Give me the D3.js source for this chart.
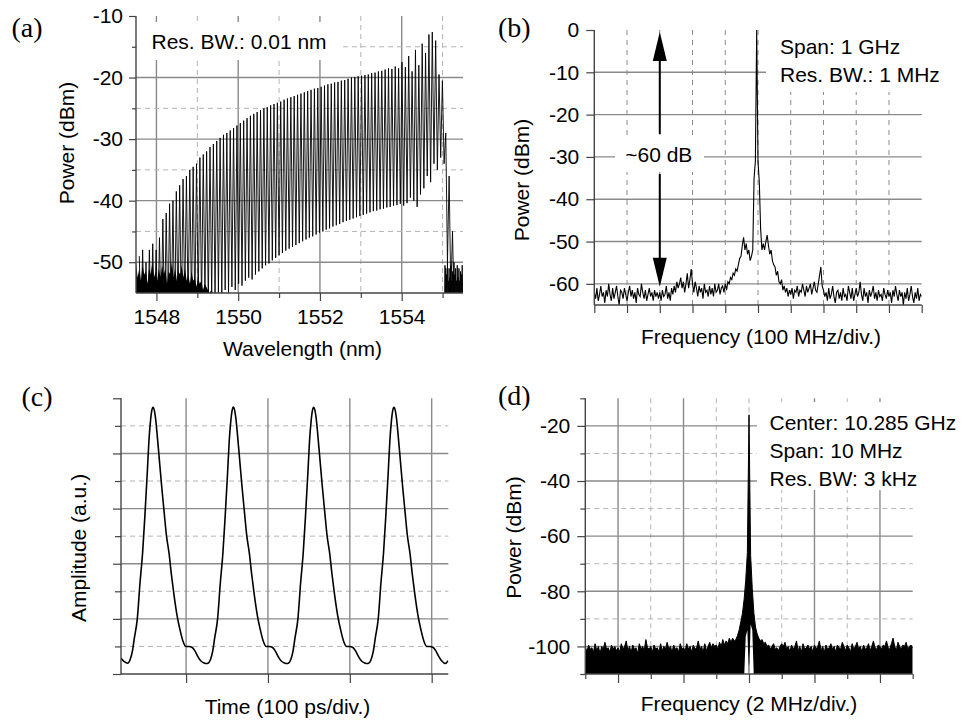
<!DOCTYPE html>
<html lang="en">
<head>
<meta charset="utf-8">
<script src="https://cdn.jsdelivr.net/npm/d3@7/dist/d3.min.js"></script>
<style>
  body { margin: 0; background: #fff; }
  svg text { font-family: "Liberation Sans", Arial, sans-serif; font-size: 21px; fill: #000; }
  svg text.plabel { font-family: "Liberation Serif", "Times New Roman", serif; font-size: 28px; }
  .grid { stroke: #8a8a8a; stroke-width: 1.4; }
  .dash { stroke: #b4b4b4; stroke-width: 1; stroke-dasharray: 5,4; }
  .dashb { stroke: #8a8a8a; stroke-width: 1; stroke-dasharray: 5,5; }
  .tick line { stroke: #444; stroke-width: 1.2; }
  .axisline { stroke: #444; stroke-width: 1.4; }
</style>
</head>
<body>
<svg width="963" height="721"></svg>
<script>
// ---------------- (a) optical spectrum ----------------
var aXMajor = [1548, 1550, 1552, 1554];
var aXMinor = [1549, 1551, 1553, 1555];
var aYMajor = [-10, -20, -30, -40, -50];
var aYMinor = [-15, -25, -35, -45];
var combStart = 1547.58;   // first visible mode (nm)
var combSpacing = 0.0824;  // mode spacing, 10.285 GHz at 1550 nm
var combPeak = [
  -49,-48,-50,-48,-47,-48,-46,-43,-42,-40.5,
  -40,-38.5,-37.5,-36.5,-36,-35,-34.5,-34,-33,-32.5,
  -32,-31.3,-30.8,-30.3,-29.8,-29.3,-29,-28.6,-28.2,-27.8,
  -27.4,-27,-26.6,-26.2,-25.9,-25.6,-25.3,-25,-24.8,-24.5,
  -24.3,-24.1,-23.9,-23.6,-23.4,-23.2,-23,-22.8,-22.6,-22.4,
  -22.2,-22,-21.8,-21.7,-21.5,-21.3,-21.1,-21,-20.8,-20.7,
  -20.5,-20.4,-20.2,-20,-19.9,-19.8,-19.7,-19.6,-19.5,-19.3,
  -19.2,-19,-18.9,-18.7,-18.5,-18.6,-18.2,-18.5,-17.5,-18.3,
  -16.5,-19,-15.5,-18,-14.5,-16,-13,-12.6,-14,-19.5,
  -20.5,-29,-36,-45];
var combValley = [
  -60,-60,-60,-60,-60,-60,-60,-60,-60,-60,
  -60,-58,-59,-57,-58,-57,-58,-56.5,-57,-56,
  -57,-55.5,-56,-55,-55.5,-54.5,-55,-54,-54.5,-53.5,
  -53.8,-53,-52.5,-52.8,-52,-51.5,-51,-50.5,-50.2,-49.7,
  -49.3,-48.9,-48.5,-48.1,-47.8,-47.5,-47.2,-46.9,-46.6,-46.3,
  -46,-45.8,-45.5,-45.2,-45,-44.7,-44.5,-44.2,-44,-43.8,
  -43.5,-43.3,-43.1,-42.9,-42.7,-42.5,-42.3,-42.1,-41.9,-41.7,
  -41.6,-41.4,-41.3,-41.1,-41,-40.8,-40.7,-40.5,-40.8,-40.4,
  -39.5,-40,-41,-39,-38,-36,-37,-34,-35,-33,
  -34,-50,-55,-58];
// noise floor under the short-wavelength side, 0.04 nm steps from 1547.5
var aFloorStart = 1547.5;
var aFloor = [-50,-52.5,-51,-53,-50.5,-52,-51.5,-53.5,-51,-52,-50,-52.5,-51.5,-53,-51,-52.5,
              -50.5,-52,-51,-53.5,-51.5,-52,-50,-52.5,-51,-53,-51.5,-52,-50.5,-52.5,-51,-53,
              -52,-53.5,-51.5,-53,-52.5,-54,-52.5,-53.5,-53,-54.5,-53.5,-54,-54.5,-55,-54.5,-55,-55];
// noise past the long-wavelength edge, 0.01 nm steps from 1555.05
var aTailStart = 1555.05;
var aTail = [-56,-50.5,-57,-51,-55,-52,-56.5,-50,-57,-53,-55.5,-51,-56,-52.5,-57,-50.5,
             -55,-53,-56,-51.5,-57,-52,-55,-50,-56.5,-52,-57,-51,-55.5,-53,-56,-50.5,
             -57,-52.5,-55,-51,-56,-53,-57.5,-51.5,-55,-52,-56.5,-50.5,-57,-52];

// ---------------- (b) RF spectrum, 1 GHz span ----------------
var bYTicks = [0, -10, -20, -30, -40, -50, -60];
var bDivs = [0,1,2,3,4,5,6,7,8,9,10];
var bStep = 0.04; // div per sample
var bPower = [
  -62,-63.5,-61,-64,-62.5,-60.5,-63,-62,-64.5,-61.5,-63,-60,-62.5,-64,-61,-63.5,-62,-60.5,-63,-65,-61.5,-62,-63.5,-61,-62.5,
  -64,-62,-60.5,-63,-61.5,-63.5,-62,-64.5,-61,-62.5,-63,-60,-62,-63.5,-61.5,-64,-62.5,-61,-63,-62,-64,-61.5,-63,-62,-63.5,
  -62,-64,-61.5,-63,-62.5,-60.5,-63.5,-62,-64,-61,-62.5,-60.5,-62,-59.5,-61,-60,-58.5,-61,-59.5,-62,-60,-57.5,-61,-59,-56.5,
  -60,-62,-59.5,-61,-63,-60.5,-62,-61,-63.5,-60,-62,-61.5,-63,-60.5,-62.5,-61,-63,-60,-62,-61.5,-60,-62.5,-61,-60.5,-62,
  -60,-61.5,-59.5,-60,-58.5,-59,-57.5,-58,-56.5,-57,-55.5,-54,-53.5,-51,-49,-52,-50.5,-53,-52,-54.5,-53.5,-52,-35,-31,0,
  -31,-36,-47,-52,-50.5,-52,-50,-48.5,-51,-53,-52,-54.5,-55.5,-56,-58,-57,-59.5,-60,-59,-61.5,-60.5,-62,-61,-63,-61.5,
  -62.5,-61,-63.5,-61.5,-62,-60.5,-63,-61.5,-62,-60,-61.5,-63,-60.5,-62,-61,-60,-62.5,-61,-59.5,-61.5,-62,-60,-58,-56,-60.5,
  -61.5,-63,-62,-64,-61,-63.5,-62.5,-60.5,-63,-64.5,-62,-61.5,-63.5,-62,-64,-61,-63,-62.5,-64,-60.5,-62,-63.5,-61,-64,-62.5,
  -61,-63,-62,-59.5,-62.5,-64,-61,-63,-62,-64.5,-61.5,-63,-62,-60.5,-63.5,-62,-64,-61.5,-63,-62.5,-64,-61,-62.5,-63.5,-61.5,
  -63,-62,-64.5,-61.5,-63,-60.5,-62.5,-64,-61.5,-63,-62,-65,-62,-63.5,-61,-64,-62.5,-60.5,-63,-64.5,-62,-63.5,-61,-64,-62.5,-63];
var bArrowDiv = 2, bArrowTop = 0, bArrowBottom = -60;

// ---------------- (c) pulse train ----------------
var cXTicks = [100, 200, 300, 400];
var cTime = [20.5, 24.5,
  28.6,31.6,34.6,36.8,40.4,43.7,46.9,49.8,52.6,54.6,56.6,58.1,59.6,61.1,62.6,66.1,70.2,73.1,76.1,79.1,82.1,85.1,89.1,92.6,96.1,99.9,103.6,107.1,110.6,114.1,118.1,122.1,125.1,
  126.7,129.7,132.7,134.9,138.5,141.8,145.0,147.9,150.7,152.7,154.7,156.2,157.7,159.2,160.7,164.2,168.3,171.2,174.2,177.2,180.2,183.2,187.2,190.7,194.2,198.0,201.7,205.2,208.7,212.2,216.2,220.2,223.2,
  224.8,227.8,230.8,233.0,236.6,239.9,243.1,246.0,248.8,250.8,252.8,254.3,255.8,257.3,258.8,262.3,266.4,269.3,272.3,275.3,278.3,281.3,285.3,288.8,292.3,296.1,299.8,303.3,306.8,310.3,314.3,318.3,321.3,
  322.9,325.9,328.9,331.1,334.7,338.0,341.2,344.1,346.9,348.9,350.9,352.4,353.9,355.4,356.9,360.4,364.5,367.4,370.4,373.4,376.4,379.4,383.4,386.9,390.4,394.2,397.9,401.4,404.9,408.4,412.4,416.4,420.3];
var cAmp = [0.57, 0.45,
  0.39,0.52,0.86,1.3,2.0,3.3,4.4,5.8,7.3,8.45,9.2,9.55,9.67,9.58,9.3,8.2,6.8,5.9,5.0,4.4,3.6,2.9,2.1,1.6,1.2,1.0,1.0,0.97,0.85,0.65,0.47,0.4,0.38,
  0.39,0.52,0.86,1.3,2.0,3.3,4.4,5.8,7.3,8.45,9.2,9.55,9.68,9.58,9.3,8.2,6.8,5.9,5.0,4.4,3.6,2.9,2.1,1.6,1.2,1.0,1.0,0.97,0.85,0.65,0.47,0.4,0.38,
  0.39,0.52,0.86,1.3,2.0,3.3,4.4,5.8,7.3,8.45,9.2,9.55,9.67,9.58,9.3,8.2,6.8,5.9,5.0,4.4,3.6,2.9,2.1,1.6,1.2,1.0,1.0,0.97,0.85,0.65,0.47,0.4,0.38,
  0.39,0.52,0.86,1.3,2.0,3.3,4.4,5.8,7.3,8.45,9.2,9.55,9.67,9.58,9.3,8.2,6.8,5.9,5.0,4.4,3.6,2.9,2.1,1.6,1.2,1.0,1.0,0.97,0.85,0.65,0.47,0.38,0.48];

// ---------------- (d) RF spectrum, 10 MHz span ----------------
var dYMajor = [-20, -40, -60, -80, -100];
var dYMinor = [-10, -30, -50, -70, -90, -110];
var dXMajor = [1, 3, 5, 7, 9];
var dXMinor = [0, 2, 4, 6, 8, 10];
var dGridSolid = [1, 3, 7, 9];
var dGridDash = [2, 4, 5, 6, 8];
var dStep = 0.05; // div per sample
var dTop = [
  -100,-102,-99.5,-101,-100.5,-102,-99,-101.5,-100,-102.5,-100,-101,-98.5,-101,-100.5,-102,-99.5,-101,-100,-101.5,
  -100.5,-102,-99,-101,-100,-98,-101.5,-100,-102,-99.5,-101,-100.5,-102.5,-99,-101,-100,-101.5,-97.5,-100.5,-101,
  -100,-102,-99.5,-101,-100.5,-102,-99,-101.5,-100,-101,-98.5,-101,-100,-102,-99.5,-101,-100.5,-102,-99,-101,
  -100.5,-101.5,-99,-101,-100,-102,-99.5,-101,-100.5,-98,-101,-100,-102,-99,-101.5,-100,-98.5,-100.5,-99,-100,
  -99.5,-101,-98.5,-100,-97.5,-99.5,-98,-99,-97,-98.5,-97,-98,-97.5,-96,-94,-91,-88,-83,-76,-66,
  -16,
  -67,-79,-88,-93,-95.5,-97,-98,-97.5,-99,-98.5,-100,-99.5,-101,-100,-99,-101,-100.5,-101.5,-100,-99,
  -100,-98.5,-101,-100,-102,-99.5,-101,-100,-98,-101.5,-100,-102,-99,-101,-100.5,-99.5,-101,-100,-102,-99.5,
  -101,-100,-98,-101.5,-100,-102,-99.5,-101,-100.5,-99,-101,-100,-102,-99.5,-100.5,-101,-98.5,-100,-101.5,-99.5,
  -100.5,-102,-99,-101,-100,-98.5,-101,-100,-102,-99.5,-101,-100.5,-99,-101.5,-100,-98,-100.5,-101,-99.5,-100,
  -101,-99.5,-100,-98,-100.5,-101,-99,-97,-100,-101.5,-98.5,-100,-101,-99.5,-100,-98.5,-101,-100,-99.5,-100.5];
var dFloor = -112; // trace bottom lies below the screen
var dFloorDips = [[4.90, -96.5], [4.95, -94], [5.05, -92], [5.10, -94]];

// ---------------- drawing ----------------
var svg = d3.select('svg');
var defs = svg.append('defs');

function clip(id, x0, y0, x1, y1) {
  defs.append('clipPath').attr('id', id).append('rect')
      .attr('x', x0).attr('y', y0).attr('width', x1 - x0).attr('height', y1 - y0);
}
function hLines(g, y, vals, x0, x1, cls) {
  g.selectAll(null).data(vals).enter().append('line').attr('class', cls)
   .attr('x1', x0).attr('x2', x1)
   .attr('y1', function(d){ return y(d); }).attr('y2', function(d){ return y(d); });
}
function vLines(g, x, vals, y0, y1, cls) {
  g.selectAll(null).data(vals).enter().append('line').attr('class', cls)
   .attr('y1', y0).attr('y2', y1)
   .attr('x1', function(d){ return x(d); }).attr('x2', function(d){ return x(d); });
}
function addAxis(g, axis, tx, ty) {
  g.append('g').attr('transform', 'translate(' + tx + ',' + ty + ')')
   .call(axis).call(function(a){ a.select('.domain').remove(); });
}
function axisLine(g, x1, y1, x2, y2) {
  g.append('line').attr('class', 'axisline').attr('x1', x1).attr('y1', y1).attr('x2', x2).attr('y2', y2);
}
function mask(g, x, y, w, h) {
  g.append('rect').attr('x', x).attr('y', y).attr('width', w).attr('height', h).attr('fill', '#fff');
}
function label(txt, x, y, anchor, cls) {
  return svg.append('text').attr('x', x).attr('y', y).attr('text-anchor', anchor || 'start')
            .attr('class', cls || null).text(txt);
}
function vTitle(txt, x, y) {
  svg.append('text').attr('transform', 'translate(' + x + ',' + y + ') rotate(-90)')
     .attr('text-anchor', 'middle').text(txt);
}
var fmt = function(d){ return String(d); };

// ----- panel (a)
var xA = d3.scaleLinear().domain([1547.5, 1555.5]).range([136, 463]);
var yA = d3.scaleLinear().domain([-55, -10]).range([293, 16]);
var gA = svg.append('g');
clip('clipA', 136, 16, 463, 293);
vLines(gA, xA, aXMajor, 16, 293, 'grid');
vLines(gA, xA, aXMinor, 16, 293, 'dash');
hLines(gA, yA, aYMajor.slice(1), 136, 463, 'grid');
hLines(gA, yA, aYMinor, 136, 463, 'dash');
mask(gA, 137, 22, 206, 38);

var combPts = [];
combPeak.forEach(function(p, i){
  var wl = combStart + i * combSpacing;
  combPts.push([wl, p]);
  combPts.push([wl + combSpacing / 2, combValley[i]]);
});
var lineA = d3.line().x(function(d){ return xA(d[0]); }).y(function(d){ return yA(d[1]); });
var dataA = gA.append('g').attr('clip-path', 'url(#clipA)');
dataA.append('path')
  .attr('d', d3.area().x(function(d, i){ return xA(aFloorStart + i * 0.04); }).y0(yA(-55)).y1(function(d){ return yA(d); })(aFloor))
  .attr('fill', '#000');
dataA.append('path').attr('d', lineA(combPts))
  .attr('fill', 'none').attr('stroke', '#000').attr('stroke-width', 0.9);
dataA.append('path').attr('d', lineA(aTail.map(function(v, i){ return [aTailStart + i * 0.01, v]; })))
  .attr('fill', 'none').attr('stroke', '#000').attr('stroke-width', 0.9);

axisLine(gA, 136, 16, 136, 293);
axisLine(gA, 136, 293, 463, 293);
addAxis(gA, d3.axisLeft(yA).tickValues(aYMajor).tickSize(7).tickPadding(6).tickFormat(fmt), 136, 0);
addAxis(gA, d3.axisLeft(yA).tickValues(aYMinor).tickSize(4).tickFormat(''), 136, 0);
addAxis(gA, d3.axisBottom(xA).tickValues(aXMajor).tickSize(8).tickPadding(8).tickFormat(fmt), 0, 293);
addAxis(gA, d3.axisBottom(xA).tickValues(aXMinor).tickSize(5).tickFormat(''), 0, 293);
label('Res. BW.: 0.01 nm', 151.5, 48.5);
label('(a)', 11.5, 37, 'start', 'plabel');
vTitle('Power (dBm)', 74, 143);
label('Wavelength (nm)', 302.5, 355.5, 'middle');

// ----- panel (b)
var xB = d3.scaleLinear().domain([0, 10]).range([594.3, 921.7]);
var yB = d3.scaleLinear().domain([-65, 0]).range([305, 30]);
var gB = svg.append('g');
clip('clipB', 594.3, 28, 921.7, 305);
vLines(gB, xB, bDivs.slice(1, 10), 30, 305, 'dashb');
hLines(gB, yB, bYTicks.slice(1), 594.3, 921.7, 'grid');
mask(gB, 766, 26, 197, 66);
mask(gB, 615, 137, 89, 35);
var lineB = d3.line().x(function(d, i){ return xB(i * bStep); }).y(function(d){ return yB(d); });
gB.append('g').attr('clip-path', 'url(#clipB)').append('path').attr('d', lineB(bPower))
  .attr('fill', 'none').attr('stroke', '#000').attr('stroke-width', 1.1);

// ~60 dB arrow
var ax = xB(bArrowDiv), aTopY = yB(bArrowTop) + 2, aBotY = yB(bArrowBottom) + 3;
var aMid = yB((bArrowTop + bArrowBottom) / 2);
gB.append('line').attr('x1', ax).attr('x2', ax).attr('y1', aTopY + 28).attr('y2', aMid - 23)
  .attr('stroke', '#000').attr('stroke-width', 2);
gB.append('line').attr('x1', ax).attr('x2', ax).attr('y1', aMid + 17).attr('y2', aBotY - 28)
  .attr('stroke', '#000').attr('stroke-width', 2);
gB.append('path').attr('d', 'M' + ax + ',' + aTopY + 'L' + (ax - 7) + ',' + (aTopY + 29) + 'L' + (ax + 7) + ',' + (aTopY + 29) + 'Z');
gB.append('path').attr('d', 'M' + ax + ',' + aBotY + 'L' + (ax - 7) + ',' + (aBotY - 29) + 'L' + (ax + 7) + ',' + (aBotY - 29) + 'Z');
label('~60 dB', ax - 1, aMid + 5, 'middle');

axisLine(gB, 594.3, 30, 594.3, 305);
axisLine(gB, 594.3, 305, 921.7, 305);
addAxis(gB, d3.axisLeft(yB).tickValues(bYTicks).tickSize(8).tickPadding(7).tickFormat(fmt), 594.3, 0);
addAxis(gB, d3.axisBottom(xB).tickValues(bDivs).tickSize(8).tickFormat(''), 0, 305);
label('Span: 1 GHz', 780, 53.5);
label('Res. BW.: 1 MHz', 780, 81.5);
label('(b)', 498, 37, 'start', 'plabel');
vTitle('Power (dBm)', 529, 180);
label('Frequency (100 MHz/div.)', 761, 343.5, 'middle');

// ----- panel (c)
var xC = d3.scaleLinear().domain([20.5, 420.3]).range([121, 448.3]);
var yC = d3.scaleLinear().domain([0, 10]).range([674, 398.3]);
var gC = svg.append('g');
clip('clipC', 121, 396, 448.3, 674);
hLines(gC, yC, [2, 4, 6, 8], 121, 448.3, 'grid');
hLines(gC, yC, [1, 3, 5, 7, 9], 121, 448.3, 'dash');
vLines(gC, xC, cXTicks, 398.3, 674, 'grid');
var lineC = d3.line().curve(d3.curveMonotoneX)
  .x(function(d){ return xC(d[0]); }).y(function(d){ return yC(d[1]); });
gC.append('g').attr('clip-path', 'url(#clipC)').append('path').attr('d', lineC(d3.zip(cTime, cAmp)))
  .attr('fill', 'none').attr('stroke', '#000').attr('stroke-width', 1.6);
axisLine(gC, 121, 398.3, 121, 674);
axisLine(gC, 121, 674, 448.3, 674);
addAxis(gC, d3.axisLeft(yC).tickValues([0, 2, 4, 6, 8, 10]).tickSize(8).tickFormat(''), 121, 0);
addAxis(gC, d3.axisLeft(yC).tickValues([1, 3, 5, 7, 9]).tickSize(6).tickFormat(''), 121, 0);
addAxis(gC, d3.axisBottom(xC).tickValues(cXTicks).tickSize(9).tickFormat(''), 0, 674);
label('(c)', 21.5, 406, 'start', 'plabel');
vTitle('Amplitude (a.u.)', 85.5, 548);
label('Time (100 ps/div.)', 287.5, 714, 'middle');

// ----- panel (d)
var xD = d3.scaleLinear().domain([0, 10]).range([585.3, 912.7]);
var yD = d3.scaleLinear().domain([-110, -10]).range([674, 398.3]);
var gD = svg.append('g');
clip('clipD', 585.3, 396, 912.7, 674);
vLines(gD, xD, dGridSolid, 398.3, 674, 'grid');
vLines(gD, xD, dGridDash, 398.3, 674, 'dash');
hLines(gD, yD, dYMajor, 585.3, 912.7, 'grid');
hLines(gD, yD, [-30, -50, -70, -90], 585.3, 912.7, 'dash');
mask(gD, 757, 402, 206, 88);
var dFloorMap = new Map(dFloorDips.map(function(p){ return [Math.round(p[0] / dStep), p[1]]; }));
var dPts = dTop.map(function(v, i){
  return [i * dStep, dFloorMap.has(i) ? dFloorMap.get(i) : dFloor, v];
});
var dataD = gD.append('g').attr('clip-path', 'url(#clipD)');
dataD.append('path')
  .attr('d', d3.area().x(function(d){ return xD(d[0]); }).y0(function(d){ return yD(d[1]); }).y1(function(d){ return yD(d[2]); })(dPts))
  .attr('fill', '#000');
dataD.append('path')
  .attr('d', d3.line().x(function(d){ return xD(d[0]); }).y(function(d){ return yD(d[2]); })(dPts))
  .attr('fill', 'none').attr('stroke', '#000').attr('stroke-width', 1);
axisLine(gD, 585.3, 398.3, 585.3, 674);
axisLine(gD, 585.3, 674, 912.7, 674);
addAxis(gD, d3.axisLeft(yD).tickValues(dYMajor).tickSize(8).tickPadding(7).tickFormat(fmt), 585.3, 0);
addAxis(gD, d3.axisLeft(yD).tickValues(dYMinor).tickSize(5).tickFormat(''), 585.3, 0);
addAxis(gD, d3.axisBottom(xD).tickValues(dXMajor).tickSize(9).tickFormat(''), 0, 674);
addAxis(gD, d3.axisBottom(xD).tickValues(dXMinor).tickSize(5).tickFormat(''), 0, 674);
label('Center: 10.285 GHz', 769.5, 430);
label('Span: 10 MHz', 769.5, 458);
label('Res. BW: 3 kHz', 769.5, 485.5);
label('(d)', 498, 404.5, 'start', 'plabel');
vTitle('Power (dBm)', 520.5, 537.5);
label('Frequency (2 MHz/div.)', 749, 711, 'middle');
</script>
</body>
</html>
